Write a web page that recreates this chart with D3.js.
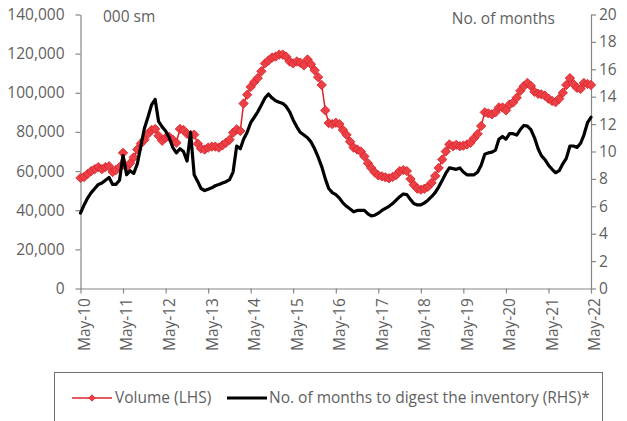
<!DOCTYPE html>
<html>
<head>
<meta charset="utf-8">
<script src="https://cdn.jsdelivr.net/npm/d3@7"></script>
<style>
  body { margin: 0; background: #fff; }
  svg text { font-family: "Open Sans", sans-serif; fill: #5f5f5f; }
</style>
</head>
<body>
<svg id="chart" width="627" height="421"></svg>
<script>
// Monthly series, May 2010 to May 2022
const firstMonth = new Date(2010, 4, 1);

// Transacted volume, thousand square metres (left axis)
const volume = [
  56500, 57000, 58500, 60000, 61000, 62000, 61000, 62000, 62500, 59500, 60500, 62000,
  69300, 62000, 64000, 67000, 71000, 74000, 76000, 79000, 81000, 81500, 78000, 75500,
  77000, 77500, 76000, 74500, 81500, 81000, 79000, 78500, 78600, 74000, 71500, 71000,
  72000, 72500, 72500, 72000, 73200, 74500, 76000, 79600, 81300, 80500, 94500, 99000,
  103000, 105500, 107500, 111000, 115000, 116500, 118000, 118500, 119500, 119500, 118500, 116000,
  115000, 116000, 115400, 114000, 117000, 114600, 111500, 108000, 104000, 91000, 84500, 84000,
  84700, 84000, 81000, 78500, 75000, 72000, 71000, 70000, 67500, 64000, 61600, 59300,
  57800, 57300, 56800, 56300, 57000, 58000, 60000, 60500, 60000, 56000, 53000, 51000,
  50500, 51000, 52000, 54000, 57500, 61600, 65900, 70000, 73600, 72700, 73400, 72700,
  73000, 73600, 74500, 76800, 79000, 83000, 90000, 89500, 89000, 90000, 92500, 92500,
  91000, 94000, 95000, 97500, 101000, 103400, 105000, 103500, 100500, 99500, 99200, 98500,
  97000, 95800, 95200, 97000, 100000, 104000, 107500, 104500, 102500, 102000, 105000, 104500,
  104000
];

// Months needed to digest the inventory (right axis)
const monthsToDigest = [
  5.5, 6.1, 6.6, 7.0, 7.3, 7.6, 7.7, 7.9, 8.1, 7.6, 7.6, 7.9,
  9.7, 8.3, 8.6, 8.4, 9.1, 10.4, 11.7, 12.5, 13.4, 13.8, 12.2, 11.8,
  11.5, 11.0, 10.3, 9.9, 10.2, 10.0, 9.3, 11.4, 8.3, 7.8, 7.3, 7.15,
  7.25, 7.35, 7.5, 7.6, 7.7, 7.8, 7.95, 8.5, 10.4, 10.2, 10.9, 11.4,
  12.1, 12.5, 12.9, 13.4, 13.9, 14.2, 13.9, 13.7, 13.6, 13.5, 13.3, 12.9,
  12.3, 11.8, 11.4, 11.2, 11.0, 10.7, 10.2, 9.6, 8.9, 8.0, 7.3, 7.0,
  6.85, 6.6, 6.25, 6.0, 5.8, 5.6, 5.7, 5.7, 5.7, 5.45, 5.3, 5.35,
  5.5, 5.7, 5.85, 6.0, 6.2, 6.45, 6.7, 6.9, 6.85, 6.5, 6.2, 6.1,
  6.1, 6.25, 6.45, 6.7, 7.0, 7.4, 7.9, 8.4, 8.8, 8.75, 8.7, 8.8,
  8.5, 8.3, 8.3, 8.3, 8.5, 9.0, 9.8, 9.9, 9.95, 10.1, 10.9, 11.1,
  10.9, 11.3, 11.3, 11.2, 11.6, 11.9, 11.85, 11.6, 11.0, 10.2, 9.7, 9.4,
  9.0, 8.7, 8.45, 8.6, 9.1, 9.5, 10.4, 10.4, 10.3, 10.6, 11.2, 12.1,
  12.5
];

const xTickLabels = ["May-10", "May-11", "May-12", "May-13", "May-14", "May-15", "May-16",
                     "May-17", "May-18", "May-19", "May-20", "May-21", "May-22"];
const leftTicks = [0, 20000, 40000, 60000, 80000, 100000, 120000, 140000];
const rightTicks = [0, 2, 4, 6, 8, 10, 12, 14, 16, 18, 20];

const legendLabels = ["Volume (LHS)", "No. of months to digest the inventory (RHS)*"];
const leftUnit = "000 sm";
const rightUnit = "No. of months";

const RED = "#d7242b";
const RED_FILL = "#ec4046";
const AXIS = "#868686";

const svg = d3.select("#chart");
const dates = volume.map((_, i) => d3.timeMonth.offset(firstMonth, i));
const tickDates = xTickLabels.map((_, k) => d3.timeMonth.offset(firstMonth, 12 * k));

const x = d3.scaleTime().domain([dates[0], dates[dates.length - 1]]).range([80.5, 591]);
const yL = d3.scaleLinear().domain([0, 140000]).range([288.5, 14.5]);
const yR = d3.scaleLinear().domain([0, 20]).range([288.5, 14.5]);

function styleAxis(g) {
  g.selectAll("path, line").attr("stroke", AXIS).attr("stroke-width", 1.2);
  g.selectAll("text").style("font-size", "15.5px").attr("fill", "#5f5f5f");
}

// Left axis
svg.append("g")
  .attr("transform", "translate(80.5,0)")
  .call(d3.axisLeft(yL).tickValues(leftTicks).tickSize(5).tickSizeOuter(0)
        .tickPadding(11).tickFormat(d3.format(",")))
  .call(styleAxis);

// Right axis
svg.append("g")
  .attr("transform", "translate(591,0)")
  .call(d3.axisRight(yR).tickValues(rightTicks).tickSize(5).tickSizeOuter(0)
        .tickPadding(3).tickFormat(d3.format("d")))
  .call(styleAxis);

// Bottom axis with rotated month labels
const xg = svg.append("g")
  .attr("transform", "translate(0,288.5)")
  .call(d3.axisBottom(x).tickValues(tickDates).tickSize(5).tickSizeOuter(0)
        .tickFormat((d, i) => xTickLabels[i]))
  .call(styleAxis);
xg.selectAll("text")
  .attr("transform", "rotate(-90)")
  .attr("x", -9.5)
  .attr("y", 3.5)
  .attr("dy", "0.35em")
  .style("text-anchor", "end");

// Unit captions
svg.append("text").attr("x", 103).attr("y", 22).style("font-size", "15.5px").text(leftUnit);
svg.append("text").attr("x", 555).attr("y", 23.5).style("font-size", "15.5px")
  .attr("text-anchor", "end").text(rightUnit);

// Volume series: line with diamond markers
const volLine = d3.line().x((d, i) => x(dates[i])).y(d => yL(d));
svg.append("path")
  .datum(volume)
  .attr("d", volLine)
  .attr("fill", "none")
  .attr("stroke", RED)
  .attr("stroke-width", 1.5);

const diamond = d3.symbol().type(d3.symbolSquare).size(44);
svg.append("g").selectAll("path")
  .data(volume)
  .join("path")
  .attr("d", diamond)
  .attr("transform", (d, i) => `translate(${x(dates[i])},${yL(d)}) rotate(45)`)
  .attr("fill", RED_FILL)
  .attr("stroke", RED)
  .attr("stroke-width", 0.8);

// Months-to-digest series
const monLine = d3.line().x((d, i) => x(dates[i])).y(d => yR(d));
svg.append("path")
  .datum(monthsToDigest)
  .attr("d", monLine)
  .attr("fill", "none")
  .attr("stroke", "#000")
  .attr("stroke-width", 3.2)
  .attr("stroke-linejoin", "round")
  .attr("stroke-linecap", "round");

// Legend
const lg = svg.append("g");
lg.append("rect")
  .attr("x", 54.5).attr("y", 372.5).attr("width", 548).attr("height", 60)
  .attr("fill", "#fff").attr("stroke", "#6e6e6e").attr("stroke-width", 1);

const legendY = 398;
lg.append("line").attr("x1", 72).attr("x2", 112).attr("y1", legendY).attr("y2", legendY)
  .attr("stroke", RED).attr("stroke-width", 1.5);
lg.append("path")
  .attr("d", d3.symbol().type(d3.symbolSquare).size(20)())
  .attr("transform", `translate(92,${legendY}) rotate(45)`)
  .attr("fill", RED_FILL).attr("stroke", RED).attr("stroke-width", 0.8);
lg.append("text").attr("x", 115).attr("y", legendY).attr("dy", "0.35em")
  .style("font-size", "15.5px").text(legendLabels[0]);

lg.append("line").attr("x1", 227).attr("x2", 267).attr("y1", legendY).attr("y2", legendY)
  .attr("stroke", "#000").attr("stroke-width", 3);
lg.append("text").attr("x", 269).attr("y", legendY).attr("dy", "0.35em")
  .style("font-size", "15.5px").text(legendLabels[1]);
</script>
</body>
</html>
